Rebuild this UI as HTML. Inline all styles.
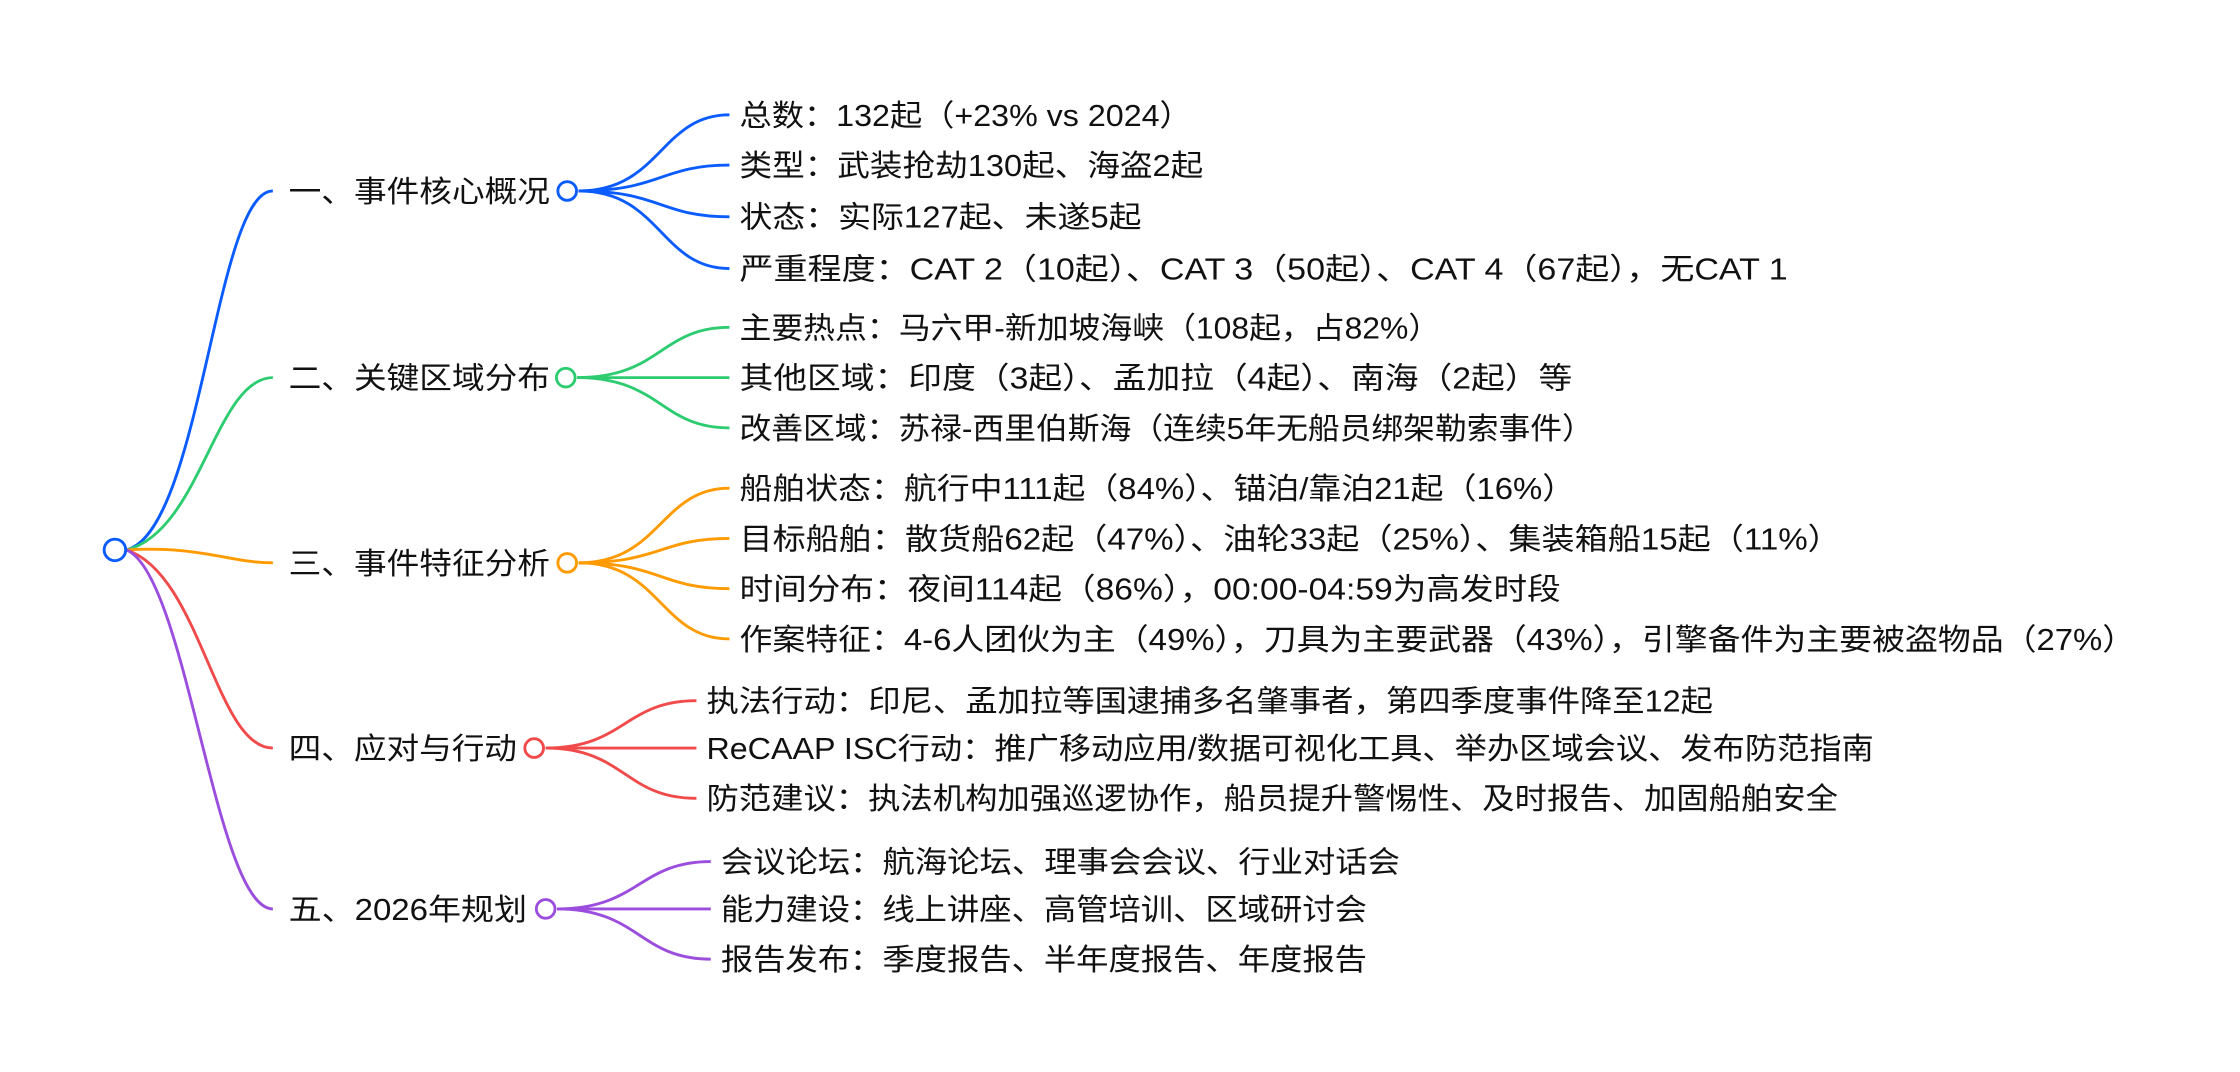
<!DOCTYPE html>
<html><head><meta charset="utf-8"><style>
html,body{margin:0;padding:0;background:#fff;}
svg{display:block;}
text{font-family:"Liberation Sans","Noto Sans CJK SC",sans-serif;font-size:21px;fill:#111;dominant-baseline:central;}
</style></head><body>
<svg width="2240" height="1072" viewBox="0 0 1560 746.6" xmlns="http://www.w3.org/2000/svg">
<g fill="none" stroke-width="2">
<path d="M88 383 C 140 370, 150 133, 190 133" stroke="#0a5cff"/>
<path d="M88 383 C 140 370, 150 263, 190 263" stroke="#2ecc71"/>
<path d="M88 383 C 140 380, 160 392, 190 392" stroke="#ff9a00"/>
<path d="M88 383 C 140 400, 150 521, 190 521" stroke="#f04a4a"/>
<path d="M88 383 C 130 400, 150 633, 190 633" stroke="#9b4ddd"/>
<g stroke="#0a5cff">
<path d="M403 133 C 460 133, 460 80, 508 80"/>
<path d="M403 133 C 460 133, 460 115, 508 115"/>
<path d="M403 133 C 460 133, 460 151, 508 151"/>
<path d="M403 133 C 460 133, 460 187, 508 187"/>
<circle cx="395" cy="133" r="6.5" fill="#fff"/>
</g>
<g stroke="#2ecc71">
<path d="M402 263 C 460 263, 460 228, 508 228"/>
<path d="M402 263 L 508 263"/>
<path d="M402 263 C 460 263, 460 298, 508 298"/>
<circle cx="394" cy="263" r="6.5" fill="#fff"/>
</g>
<g stroke="#ff9a00">
<path d="M403 392 C 460 392, 460 340, 508 340"/>
<path d="M403 392 C 460 392, 460 375, 508 375"/>
<path d="M403 392 C 460 392, 460 410, 508 410"/>
<path d="M403 392 C 460 392, 460 445, 508 445"/>
<circle cx="395" cy="392" r="6.5" fill="#fff"/>
</g>
<g stroke="#f04a4a">
<path d="M380 521 C 435 521, 435 488, 485 488"/>
<path d="M380 521 L 485 521"/>
<path d="M380 521 C 435 521, 435 556, 485 556"/>
<circle cx="372" cy="521" r="6.5" fill="#fff"/>
</g>
<g stroke="#9b4ddd">
<path d="M388 633 C 445 633, 445 600, 495 600"/>
<path d="M388 633 L 495 633"/>
<path d="M388 633 C 445 633, 445 668, 495 668"/>
<circle cx="380" cy="633" r="6.5" fill="#fff"/>
</g>
<circle cx="80" cy="383" r="7.5" stroke="#0a5cff" fill="#fff"/>
</g>
<g>
<text x="201" y="134" textLength="182" lengthAdjust="spacingAndGlyphs">一、事件核心概况</text>
<text x="201" y="264" textLength="182" lengthAdjust="spacingAndGlyphs">二、关键区域分布</text>
<text x="201" y="393" textLength="182" lengthAdjust="spacingAndGlyphs">三、事件特征分析</text>
<text x="201" y="522" textLength="159" lengthAdjust="spacingAndGlyphs">四、应对与行动</text>
<text x="201" y="634" textLength="166" lengthAdjust="spacingAndGlyphs">五、2026年规划</text>

<text x="515" y="81" textLength="315" lengthAdjust="spacingAndGlyphs">总数：132起（+23% vs 2024）</text>
<text x="515" y="116" textLength="323" lengthAdjust="spacingAndGlyphs">类型：武装抢劫130起、海盗2起</text>
<text x="515" y="152" textLength="280" lengthAdjust="spacingAndGlyphs">状态：实际127起、未遂5起</text>
<text x="515" y="188" textLength="730" lengthAdjust="spacingAndGlyphs">严重程度：CAT 2（10起）、CAT 3（50起）、CAT 4（67起），无CAT 1</text>

<text x="515" y="229" textLength="488" lengthAdjust="spacingAndGlyphs">主要热点：马六甲-新加坡海峡（108起，占82%）</text>
<text x="515" y="264" textLength="580" lengthAdjust="spacingAndGlyphs">其他区域：印度（3起）、孟加拉（4起）、南海（2起）等</text>
<text x="515" y="299" textLength="595" lengthAdjust="spacingAndGlyphs">改善区域：苏禄-西里伯斯海（连续5年无船员绑架勒索事件）</text>

<text x="515" y="341" textLength="582" lengthAdjust="spacingAndGlyphs">船舶状态：航行中111起（84%）、锚泊/靠泊21起（16%）</text>
<text x="515" y="376" textLength="767" lengthAdjust="spacingAndGlyphs">目标船舶：散货船62起（47%）、油轮33起（25%）、集装箱船15起（11%）</text>
<text x="515" y="411" textLength="572" lengthAdjust="spacingAndGlyphs">时间分布：夜间114起（86%），00:00-04:59为高发时段</text>
<text x="515" y="446" textLength="972" lengthAdjust="spacingAndGlyphs">作案特征：4-6人团伙为主（49%），刀具为主要武器（43%），引擎备件为主要被盗物品（27%）</text>

<text x="492" y="489" textLength="701" lengthAdjust="spacingAndGlyphs">执法行动：印尼、孟加拉等国逮捕多名肇事者，第四季度事件降至12起</text>
<text x="492" y="522" textLength="813" lengthAdjust="spacingAndGlyphs">ReCAAP ISC行动：推广移动应用/数据可视化工具、举办区域会议、发布防范指南</text>
<text x="492" y="557" textLength="788" lengthAdjust="spacingAndGlyphs">防范建议：执法机构加强巡逻协作，船员提升警惕性、及时报告、加固船舶安全</text>

<text x="502" y="601" textLength="473" lengthAdjust="spacingAndGlyphs">会议论坛：航海论坛、理事会会议、行业对话会</text>
<text x="502" y="634" textLength="450" lengthAdjust="spacingAndGlyphs">能力建设：线上讲座、高管培训、区域研讨会</text>
<text x="502" y="669" textLength="450" lengthAdjust="spacingAndGlyphs">报告发布：季度报告、半年度报告、年度报告</text>
</g>
</svg>
</body></html>
